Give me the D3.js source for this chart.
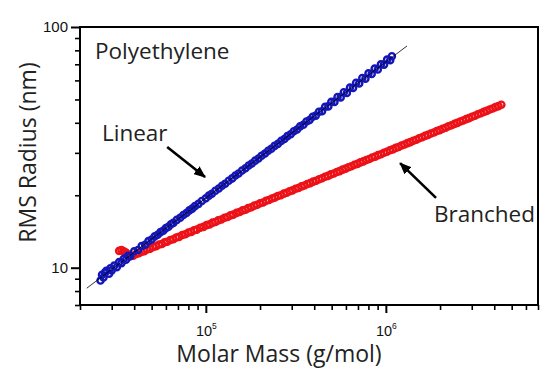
<meta charset="utf-8">
<html>
<head>
<style>
  body { margin: 0; background: #fff; }
  .axistitle { font-family: "Open Sans", Lato, sans-serif; font-size: 23px; fill: #222; }
  .note { font-family: "Open Sans", Lato, sans-serif; font-size: 22.5px; fill: #222; }
</style>
</head>
<body>
<svg width="559" height="373"></svg>
<script src="https://d3js.org/d3.v7.min.js"></script>
<script>

// linear PE : molar mass (g/mol) and rms radius (nm)
var linearM = [26e3,26.5e3,27e3,27.5e3,28e3,29e3,29.5e3,30e3,31e3,32e3,33e3,34e3,35e3,36e3,37e3,38e3,40e3,42e3,44e3,46e3,
  48e3,50e3,52e3,54e3,56e3,58e3,60e3,62e3,64e3,66e3,69e3,72e3,75e3,78e3,81e3,84e3,87e3,91e3,95e3,100e3,
  104e3,108e3,113e3,118e3,123e3,128e3,134e3,140e3,146e3,152e3,159e3,166e3,173e3,180e3,188e3,196e3,204e3,213e3,222e3,231e3,
  241e3,251e3,262e3,273e3,284e3,296e3,308e3,321e3,334e3,348e3,362e3,377e3,392e3,408e3,425e3,442e3,460e3,479e3,498e3,518e3,
  539e3,561e3,584e3,607e3,632e3,657e3,684e3,711e3,740e3,770e3,801e3,834e3,867e3,902e3,939e3,977e3,1016e3,1057e3,1080e3];
var linearR = [8.85,9.35,9.10,9.55,9.70,9.45,9.95,9.75,10.20,10.05,10.55,10.45,10.90,10.80,11.20,11.15,11.70,11.85,12.30,12.45,
  12.90,13.10,13.50,13.70,14.05,14.25,14.60,14.80,15.15,15.35,15.80,16.12,16.56,16.88,17.30,17.60,18.02,18.42,18.93,19.42,
  19.93,20.30,20.88,21.33,21.91,22.34,22.99,23.50,24.14,24.62,25.34,25.88,26.58,27.10,27.85,28.43,29.18,29.80,30.62,31.19,
  32.07,32.68,33.63,34.27,35.22,35.86,36.90,37.52,38.66,39.25,40.50,41.05,42.40,42.85,44.45,44.70,46.60,46.80,48.90,48.85,
  51.20,51.00,53.60,53.20,56.00,55.80,58.70,58.30,61.40,61.00,64.20,63.80,67.20,66.60,70.00,69.80,73.20,72.80,75.60];

// branched PE
var branchedM = [33e3,34e3,35e3,36e3,37e3,38e3,39.5e3,41e3,42.5e3,44e3,45.5e3,47e3,49e3,51e3,53e3,55e3,57e3,59e3,61e3,63.5e3,
  66e3,68.5e3,71e3,74e3,77e3,80e3,83e3,86e3,89e3,93e3,97e3,101e3,105e3,109e3,113e3,117e3,122e3,127e3,132e3,137e3,
  142e3,148e3,154e3,160e3,166e3,172e3,179e3,186e3,193e3,200e3,208e3,216e3,224e3,233e3,242e3,251e3,261e3,271e3,281e3,292e3,
  303e3,315e3,327e3,340e3,353e3,366e3,380e3,395e3,410e3,426e3,442e3,459e3,477e3,495e3,514e3,534e3,554e3,575e3,597e3,620e3,
  644e3,669e3,695e3,722e3,750e3,779e3,809e3,840e3,872e3,905e3,940e3,976e3,1013e3,1052e3,1092e3,1134e3,1177e3,1222e3,1269e3,1318e3,
  1368e3,1420e3,1475e3,1531e3,1590e3,1650e3,1713e3,1779e3,1847e3,1918e3,1991e3,2067e3,2146e3,2228e3,2314e3,2402e3,2494e3,2590e3,2689e3,2792e3,
  2898e3,3009e3,3124e3,3244e3,3368e3,3497e3,3631e3,3770e3,3914e3,4064e3,4220e3,4380e3];
var branchedR = [11.75,11.85,11.70,11.55,11.35,11.20,11.22,11.40,11.48,11.66,11.72,11.90,11.98,12.20,12.28,12.48,12.55,12.75,12.82,13.04,
  13.13,13.35,13.43,13.67,13.77,14.00,14.09,14.31,14.39,14.66,14.78,15.03,15.14,15.39,15.49,15.72,15.85,16.12,16.24,16.50,
  16.61,16.89,17.03,17.30,17.42,17.68,17.83,18.11,18.25,18.52,18.67,18.96,19.10,19.40,19.56,19.85,20.01,20.32,20.47,20.78,
  20.95,21.27,21.44,21.77,21.95,22.27,22.45,22.79,22.98,23.32,23.52,23.86,24.07,24.42,24.63,24.99,25.20,25.56,25.79,26.16,
  26.39,26.77,27.01,27.40,27.65,28.04,28.29,28.70,28.95,29.36,29.62,30.04,30.31,30.74,31.02,31.46,31.75,32.19,32.48,32.94,
  33.24,33.70,34.02,34.49,34.81,35.29,35.62,36.11,36.46,36.95,37.30,37.80,38.16,38.67,39.05,39.57,39.96,40.49,40.89,41.43,
  41.83,42.39,42.81,43.38,43.80,44.39,44.82,45.42,45.86,46.48,46.93,47.55];

// power-law fit through linear data
var fitM = [21800, 1310000];
var fitR = [8.22, 83.4];

// ticks
var xMajor = [1e5, 1e6];
var xMinor = [2e4,3e4,4e4,5e4,6e4,7e4,8e4,9e4,2e5,3e5,4e5,5e5,6e5,7e5,8e5,9e5,2e6,3e6,4e6,5e6,6e6,7e6];
var yMajor = [10, 100];
var yMinor = [7,8,9,20,30,40,50,60,70,80,90];

// arrows [fromM, fromR, toM, toR]
var arrowLinear = [61000, 31.7, 99000, 23.8];
var arrowBranched = [1.9e6, 19.5, 1.2e6, 27.2];

var svg = d3.select("svg"),
    margin = {top: 27, right: 21, bottom: 68, left: 80},
    width = +svg.attr("width") - margin.left - margin.right,
    height = +svg.attr("height") - margin.top - margin.bottom;

var x = d3.scaleLog().domain([2e4, 7e6]).range([0, width]),
    y = d3.scaleLog().domain([7, 100]).range([height, 0]);

var g = svg.append("g")
    .attr("transform", "translate(" + margin.left + "," + margin.top + ")");

/* axes */
var gx = g.append("g").attr("transform", "translate(0," + height + ")");
gx.append("g").call(d3.axisBottom(x).tickValues(xMinor).tickSize(5).tickSizeOuter(0).tickFormat(""))
  .call(function(s){ s.select(".domain").remove(); s.selectAll("line").attr("stroke-width", 1.6); });
gx.append("g").call(d3.axisBottom(x).tickValues(xMajor).tickSize(8).tickSizeOuter(0).tickPadding(8).tickFormat(""))
  .call(function(s){
    s.select(".domain").remove();
    s.selectAll("line").attr("stroke-width", 2);
    s.selectAll(".tick text").each(function(d) {
      var t = d3.select(this).attr("dy", "1em")
        .style("font-family", "'Liberation Sans', Arial, sans-serif").style("font-size", "14.5px").style("fill", "#111");
      t.append("tspan").text("10");
      t.append("tspan").attr("dy", -7).style("font-size", "8.5px").text(Math.round(Math.log10(d)));
    });
  });

var gy = g.append("g");
gy.append("g").call(d3.axisLeft(y).tickValues(yMinor).tickSize(5).tickSizeOuter(0).tickFormat(""))
  .call(function(s){ s.select(".domain").remove(); s.selectAll("line").attr("stroke-width", 1.6); });
gy.append("g").call(d3.axisLeft(y).tickValues(yMajor).tickSize(9).tickSizeOuter(0).tickPadding(3).tickFormat(d3.format("d")))
  .call(function(s){
    s.select(".domain").remove();
    s.selectAll("line").attr("stroke-width", 2);
    s.selectAll(".tick text")
      .style("font-family", "'Liberation Sans', Arial, sans-serif").style("font-size", "15px").style("fill", "#111");
  });

// frame
g.append("rect")
  .attr("width", width).attr("height", height)
  .attr("fill", "none").attr("stroke", "#000").attr("stroke-width", 2);

/* data */
var branched = branchedM.map(function(m, i) { return {m: m, r: branchedR[i]}; });
var linear = linearM.map(function(m, i) { return {m: m, r: linearR[i]}; });

g.selectAll(".pt-branched").data(branched).enter().append("circle")
  .attr("class", "pt-branched")
  .attr("cx", function(d) { return x(d.m); })
  .attr("cy", function(d) { return y(d.r); })
  .attr("r", 3.1)
  .attr("fill", "none").attr("stroke", "#ec1218").attr("stroke-width", 2.4);

g.selectAll(".pt-linear").data(linear).enter().append("circle")
  .attr("class", "pt-linear")
  .attr("cx", function(d) { return x(d.m); })
  .attr("cy", function(d) { return y(d.r); })
  .attr("r", 3.1)
  .attr("fill", "none").attr("stroke", "#1416b8").attr("stroke-width", 2.4);

g.append("path")
  .datum(fitM.map(function(m, i) { return [m, fitR[i]]; }))
  .attr("fill", "none").attr("stroke", "#000").attr("stroke-width", 0.8)
  .attr("d", d3.line().x(function(d) { return x(d[0]); }).y(function(d) { return y(d[1]); }));

/* arrows */
svg.append("defs").append("marker")
  .attr("id", "head").attr("markerUnits", "userSpaceOnUse")
  .attr("viewBox", "0 0 12 10").attr("refX", 11).attr("refY", 5)
  .attr("markerWidth", 12).attr("markerHeight", 10).attr("orient", "auto")
  .append("path").attr("d", "M0,0L12,5L0,10Z").attr("fill", "#000");

[arrowLinear, arrowBranched].forEach(function(a) {
  g.append("line")
    .attr("x1", x(a[0])).attr("y1", y(a[1]))
    .attr("x2", x(a[2])).attr("y2", y(a[3]))
    .attr("stroke", "#000").attr("stroke-width", 2.6)
    .attr("marker-end", "url(#head)");
});

/* text */
svg.append("text").attr("class", "note").attr("x", 95).attr("y", 59).text("Polyethylene");
svg.append("text").attr("class", "note").attr("x", 102).attr("y", 141).text("Linear");
svg.append("text").attr("class", "note").attr("x", 434).attr("y", 222).text("Branched");

svg.append("text").attr("class", "axistitle")
  .attr("x", 279).attr("y", 362)
  .attr("text-anchor", "middle").text("Molar Mass (g/mol)");
svg.append("text").attr("class", "axistitle")
  .attr("transform", "rotate(-90)")
  .attr("x", -152.5).attr("y", 36)
  .attr("text-anchor", "middle").text("RMS Radius (nm)");

</script>
</body>
</html>
